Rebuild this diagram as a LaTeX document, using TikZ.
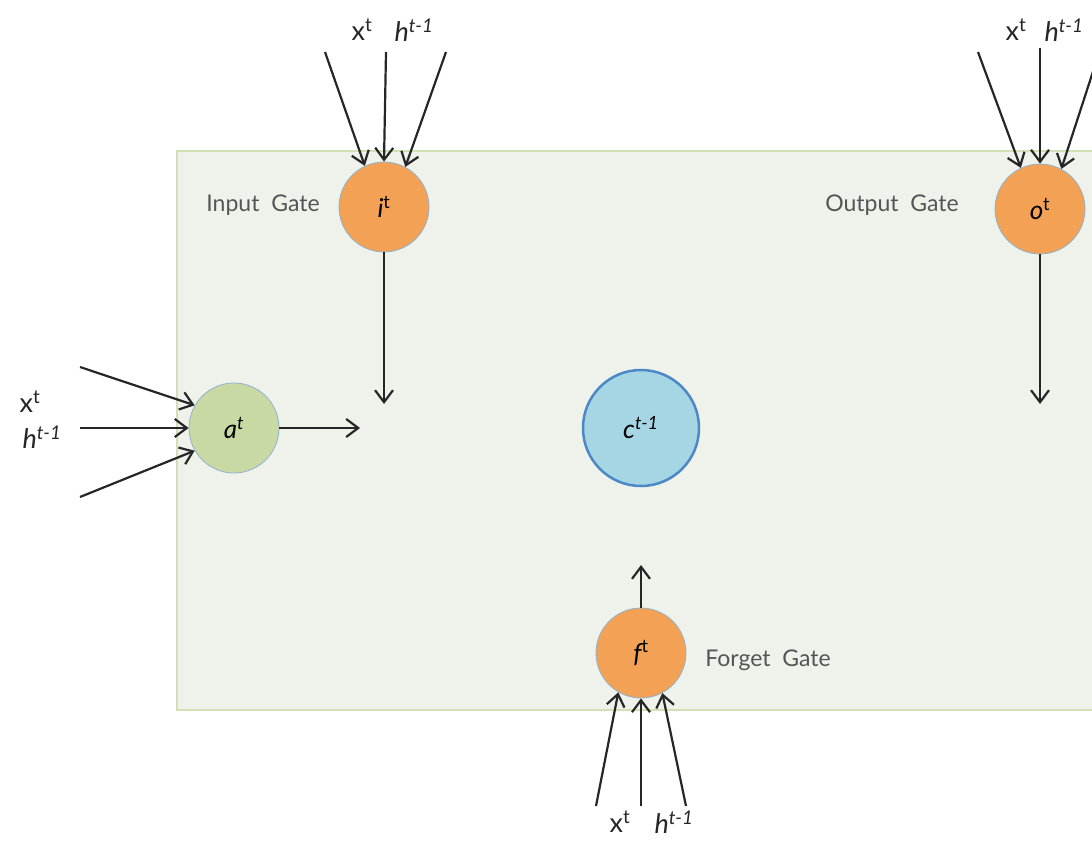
\documentclass[tikz,border=0pt]{standalone}
\usepackage{fontspec}
\setmainfont{Lato}
\usetikzlibrary{arrows.meta}
\definecolor{panelfill}{HTML}{EFF2EA}
\definecolor{paneledge}{HTML}{D3E0B5}
\definecolor{gateorange}{HTML}{F3A154}
\definecolor{candgreen}{HTML}{C9D9A3}
\definecolor{cellblue}{HTML}{A6D6E4}
\definecolor{celledge}{HTML}{4C87C6}
\definecolor{thinedge}{HTML}{8FB3D0}
\definecolor{labelgray}{HTML}{555555}
\tikzset{
  gate/.style={circle, fill=gateorange, draw=thinedge, line width=0.8pt, minimum size=90pt, inner sep=0pt, font=\fontsize{26}{26}\selectfont\itshape},
  cand/.style={circle, fill=candgreen, draw=thinedge, line width=0.8pt, minimum size=90pt, inner sep=0pt, font=\fontsize{26}{26}\selectfont\itshape},
  cell/.style={circle, fill=cellblue, draw=celledge, line width=2.5pt, minimum size=116pt, inner sep=0pt, font=\fontsize{26}{26}\selectfont\itshape},
  glabel/.style={text=labelgray, font=\fontsize{23}{23}\selectfont},
  vlabel/.style={text=black!85, font=\fontsize{27}{27}\selectfont, inner sep=1pt},
  flow/.style={line width=2.2pt, draw=black!85, -{Straight Barb[length=12pt,width=18pt,line width=2.2pt]}},
}
\begin{document}
\begin{tikzpicture}[x=1pt,y=-1pt]
\useasboundingbox (0,0) rectangle (1092,842);
% panel of the cell
\draw[fill=panelfill, draw=paneledge, line width=1.5pt] (177,151) rectangle (1110,710);

% gates and units
\node[gate] (i) at (384,207) {i\textsuperscript{\upshape t}};
\node[gate] (o) at (1040,209) {o\textsuperscript{\upshape t}};
\node[gate] (f) at (641,653) {f\textsuperscript{\upshape t}};
\node[cand] (a) at (234,428) {a\textsuperscript{t}};
\node[cell] (c) at (641,428) {c\textsuperscript{t-1}};

% gate names
\node[glabel] (il) at (263,205) {Input\ \ Gate};
\node[glabel] (ol) at (892,205) {Output\ \ Gate};
\node[glabel] (fl) at (768,660) {Forget\ \ Gate};

% input labels
\node[vlabel] (ix) at (362,30) {x\textsuperscript{t}};
\node[vlabel] (ih) at (414,30) {\itshape h\textsuperscript{t-1}};
\node[vlabel] (ox) at (1016,30) {x\textsuperscript{t}};
\node[vlabel] (oh) at (1064,30) {\itshape h\textsuperscript{t-1}};
\node[vlabel] (ax) at (30,402) {x\textsuperscript{t}};
\node[vlabel] (ah) at (42,437) {\itshape h\textsuperscript{t-1}};
\node[vlabel] (fx) at (620,822) {x\textsuperscript{t}};
\node[vlabel] (fh) at (674,822) {\itshape h\textsuperscript{t-1}};

% free ends of the connectors
\coordinate (i1) at (325,52);
\coordinate (i2) at (386,52);
\coordinate (i3) at (446,52);
\coordinate (o1) at (978,52);
\coordinate (o2) at (1040,48);
\coordinate (o3) at (1100,50);
\coordinate (a1) at (80,367);
\coordinate (a2) at (80,428);
\coordinate (a3) at (80,497);
\coordinate (f1) at (596,806);
\coordinate (f2) at (641,806);
\coordinate (f3) at (686,806);
\coordinate (iout) at (384,404);
\coordinate (oout) at (1040,404);
\coordinate (aout) at (360,428);
\coordinate (fout) at (641,565);

% incoming connections
\draw[flow] (i1) -- (i.115);
\draw[flow] (i2) -- (i.north);
\draw[flow] (i3) -- (i.62);
\draw[flow] (o1) -- (o.115);
\draw[flow] (o2) -- (o.north);
\draw[flow] (o3) -- (o.62);
\draw[flow] (a1) -- (a.150);
\draw[flow] (a2) -- (a.west);
\draw[flow] (a3) -- (a.210);
\draw[flow] (f1) -- (f.240);
\draw[flow] (f2) -- (f.south);
\draw[flow] (f3) -- (f.298);

% outgoing connections
\draw[flow] (i.south) -- (iout);
\draw[flow] (o.south) -- (oout);
\draw[flow] (a.east) -- (aout);
\draw[flow] (f.north) -- (fout);
\end{tikzpicture}
\end{document}
